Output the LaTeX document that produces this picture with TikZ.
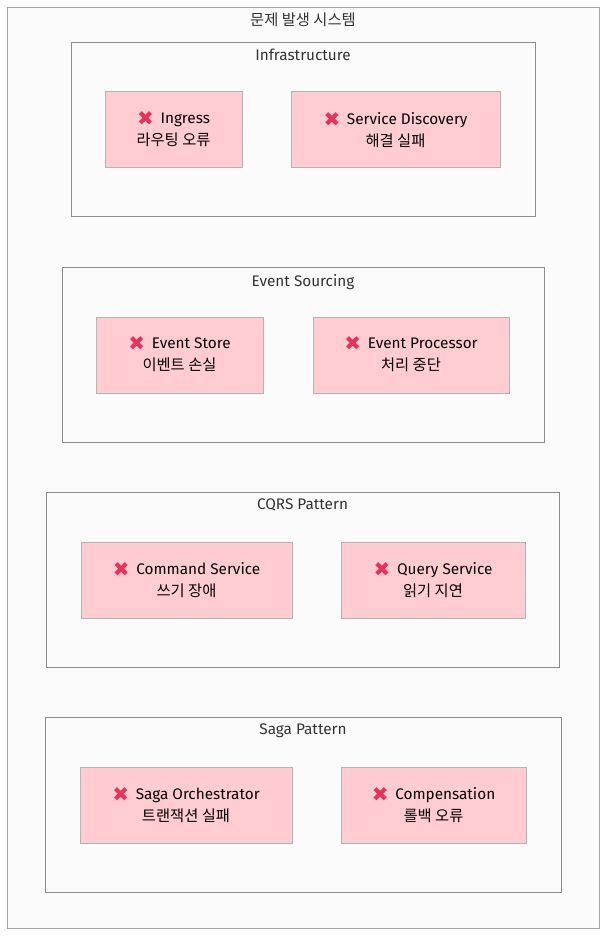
\documentclass[tikz,border=0pt]{standalone}
\usepackage{fontspec}
\setmainfont{Fira Sans}
\newfontfamily\kr{Noto Sans CJK KR}
\newfontfamily\symfont{DejaVu Sans}
\usetikzlibrary{positioning}
\definecolor{bggray}{HTML}{FBFBFB}
\definecolor{framegray}{HTML}{A8A8A8}
\definecolor{groupgray}{HTML}{8C8C8C}
\definecolor{faultpink}{HTML}{FFCCD2}
\definecolor{faultgray}{HTML}{B4B4B4}
\definecolor{crossred}{HTML}{E8325A}
\definecolor{textgray}{HTML}{333333}
\newcommand{\failmark}{\raisebox{-1.5pt}[0pt][0pt]{\symfont\fontsize{15}{15}\selectfont\color{crossred}✖}\hspace{2pt}}
\begin{document}
\begin{tikzpicture}[x=0.75pt,y=-0.75pt,
  wh/.style 2 args={minimum width=#1*0.75pt, minimum height=#2*0.75pt},
  group/.style={draw=groupgray, fill=bggray, line width=0.75pt, inner sep=0pt},
  fault/.style={draw=faultgray, fill=faultpink, line width=0.75pt, inner sep=0pt,
    align=center, text=black, font=\fontsize{11.5}{16.5}\selectfont},
  title/.style={text=textgray, font=\fontsize{11.5}{14}\selectfont, inner sep=0pt}]
\useasboundingbox (0,0) rectangle (614,948);
\fill[white] (0,0) rectangle (614,948);
% outer frame
\node[draw=framegray, fill=bggray, line width=0.75pt, wh={592}{920}] (system) at (303,468) {};
\node[title, below=4pt of system.north] (systitle) {\kr 문제 발생 시스템};
% Infrastructure
\node[group, wh={464}{174}] (infra) at (303,130) {};
\node[title, below=5pt of infra.north] (infratitle) {Infrastructure};
\node[fault, wh={137}{76}] (ingress) at (173.5,130) {\failmark\ Ingress\\{\kr 라우팅 오류}};
\node[fault, wh={209}{76}] (discovery) at (395.5,130) {\failmark\ Service Discovery\\{\kr 해결 실패}};
% Event Sourcing
\node[group, wh={482}{174}] (events) at (303,355) {};
\node[title, below=5pt of events.north] (eventstitle) {Event Sourcing};
\node[fault, wh={167}{76}] (store) at (179.5,355) {\failmark\ Event Store\\{\kr 이벤트 손실}};
\node[fault, wh={196}{76}] (processor) at (411,355) {\failmark\ Event Processor\\{\kr 처리 중단}};
% CQRS Pattern
\node[group, wh={513}{175}] (cqrs) at (302.5,579.5) {};
\node[title, below=5pt of cqrs.north] (cqrstitle) {CQRS Pattern};
\node[fault, wh={211}{76}] (command) at (186.5,580) {\failmark\ Command Service\\{\kr 쓰기 장애}};
\node[fault, wh={184}{76}] (query) at (433,580) {\failmark\ Query Service\\{\kr 읽기 지연}};
% Saga Pattern
\node[group, wh={516}{175}] (saga) at (303,804.5) {};
\node[title, below=5pt of saga.north] (sagatitle) {Saga Pattern};
\node[fault, wh={212}{76}] (orchestrator) at (186,805) {\failmark\ Saga Orchestrator\\{\kr 트랜잭션 실패}};
\node[fault, wh={185}{76}] (compensation) at (433.5,805) {\failmark\ Compensation\\{\kr 롤백 오류}};
\end{tikzpicture}
\end{document}
